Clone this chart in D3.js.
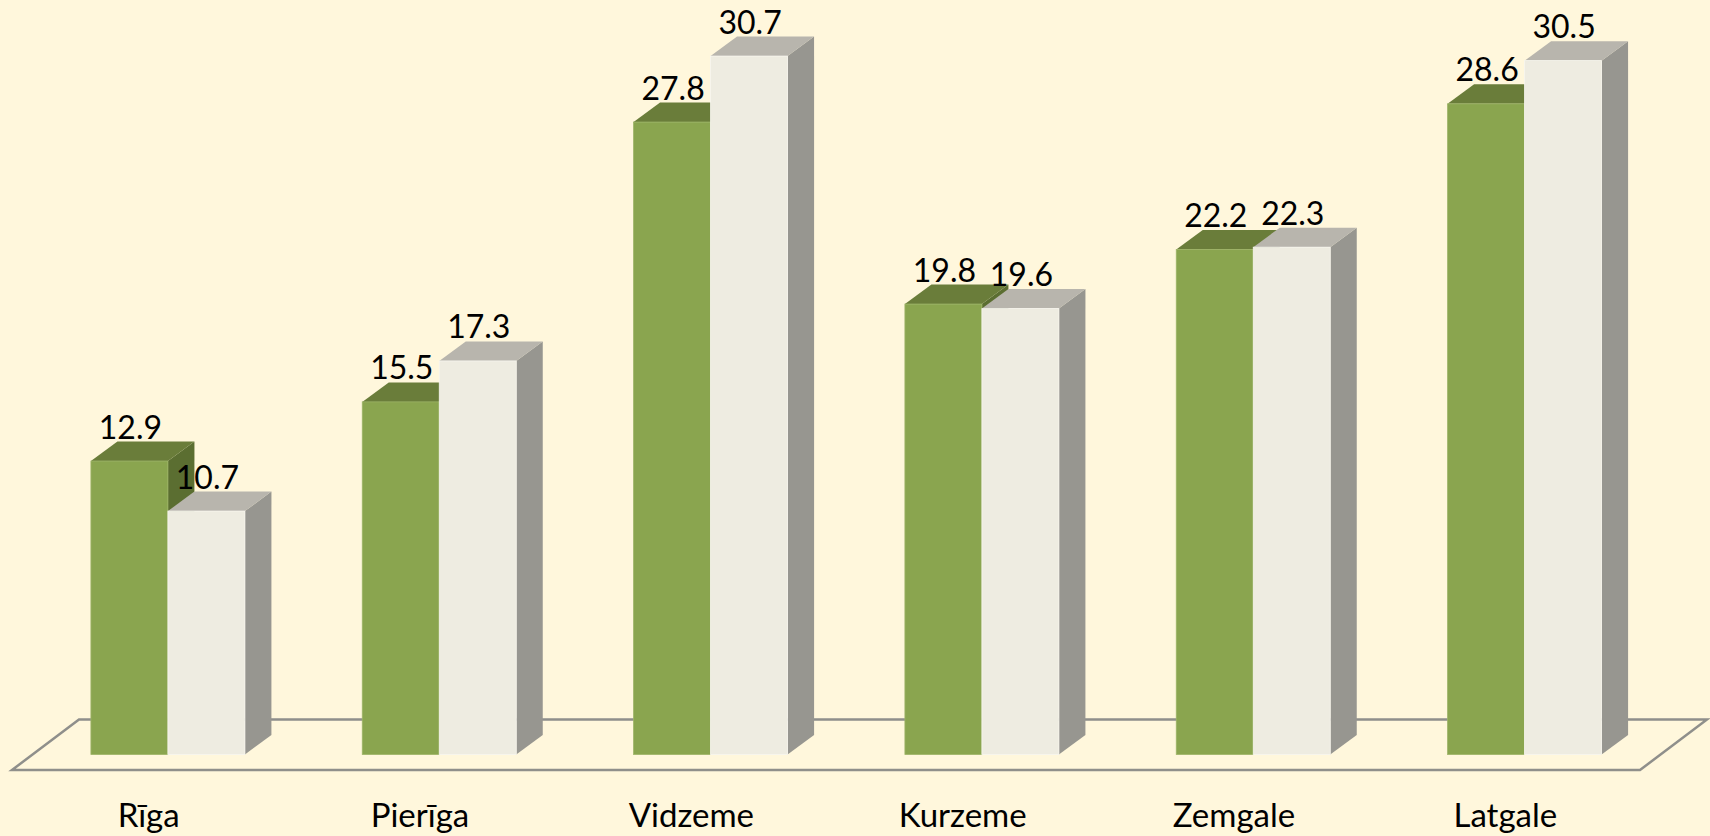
<!DOCTYPE html>
<html>
<head>
<meta charset="utf-8">
<script src="https://cdn.jsdelivr.net/npm/d3@7"></script>
<style>
  html, body { margin: 0; padding: 0; background: #FFF7DC; }
  svg { display: block; }
  text { font-family: Lato, "Open Sans", sans-serif; fill: #000; }
</style>
</head>
<body>
<svg width="1710" height="836"></svg>
<script>
const categories = ['Rīga', 'Pierīga', 'Vidzeme', 'Kurzeme', 'Zemgale', 'Latgale']
const seriesA = [12.9, 15.5, 27.8, 19.8, 22.2, 28.6]
const seriesB = [10.7, 17.3, 30.7, 19.6, 22.3, 30.5]

const W = 1710, H = 836
const floorFront = 770
const floorDx = 67, floorDy = 50.5
const barDx = 26.5, barDy = 19.5
const offX = (floorDx - barDx) / 2
const offY = (floorDy - barDy) / 2
const barW = 77

const svg = d3.select('svg')

const x = d3.scaleBand().domain(categories).range([12, 1640]).padding(0)
const base = floorFront - offY
const y = d3.scaleLinear().domain([0, 30.7]).range([base, base - 30.7 * 22.75])

// floor
const fl = x.range()[0], fr = x.range()[1]
svg.append('path')
  .attr('d', `M ${fl},${floorFront} L ${fr},${floorFront} L ${fr + floorDx},${floorFront - floorDy} L ${fl + floorDx},${floorFront - floorDy} Z`)
  .attr('fill', 'none')
  .attr('stroke', '#8f8f8b')
  .attr('stroke-width', 2.5)
  .attr('stroke-linejoin', 'miter')

const styles = [
  {front: '#8AA54F', top: '#6A7D3A', side: '#5B6E31', edge: '#9DB468'},
  {front: '#EEECE1', top: '#B8B5AD', side: '#979690', edge: '#F7F6EF'},
]

const drawBar = (x0, v, st) => {
  const y0 = y(0), y1 = y(v)
  const g = svg.append('g')
  g.append('path')
    .attr('d', `M ${x0 + barW},${y1} L ${x0 + barW + barDx},${y1 - barDy} L ${x0 + barW + barDx},${y0 - barDy} L ${x0 + barW},${y0} Z`)
    .attr('fill', st.side)
  g.append('path')
    .attr('d', `M ${x0},${y1} L ${x0 + barDx},${y1 - barDy} L ${x0 + barW + barDx},${y1 - barDy} L ${x0 + barW},${y1} Z`)
    .attr('fill', st.top)
  g.append('rect')
    .attr('x', x0).attr('y', y1)
    .attr('width', barW).attr('height', y0 - y1)
    .attr('fill', st.front)
    .attr('stroke', st.edge).attr('stroke-width', 0.8)
}

categories.forEach((c, i) => {
  const cx = x(c) + x.bandwidth() / 2 + offX
  const vals = [seriesA[i], seriesB[i]]
  vals.forEach((v, k) => {
    drawBar(cx - barW + k * barW, v, styles[k])
  })
})

// value labels
categories.forEach((c, i) => {
  const cx = x(c) + x.bandwidth() / 2 + offX
  ;[seriesA[i], seriesB[i]].forEach((v, k) => {
    svg.append('text')
      .attr('x', cx - barW / 2 + k * barW + 1)
      .attr('y', y(v) - barDy - 3)
      .attr('text-anchor', 'middle')
      .attr('font-size', 32)
      .text(d3.format('.1f')(v))
  })
})

// category labels
svg.selectAll('.cat')
  .data(categories)
  .join('text')
  .attr('class', 'cat')
  .attr('x', d => x(d) + x.bandwidth() / 2 + 1)
  .attr('y', 827)
  .attr('text-anchor', 'middle')
  .attr('font-size', 33)
  .text(d => d)
</script>
</body>
</html>
